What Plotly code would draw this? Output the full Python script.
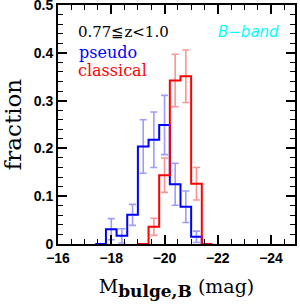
import plotly.graph_objects as go

# bin edges (mag) and fractions
bin_width = 0.4
pseudo_start = -17.4
pseudo_frac = [0.0, 0.031, 0.017, 0.061, 0.204, 0.218, 0.249, 0.125, 0.078, 0.015]
pseudo_err = [0.0, 0.022, 0.015, 0.022, 0.056, 0.058, 0.062, 0.044, 0.033, 0.012]
classical_start = -19.0
classical_frac = [0.0, 0.036, 0.144, 0.342, 0.351, 0.126, 0.0]
classical_err = [0.0, 0.018, 0.036, 0.055, 0.055, 0.034, 0.0]

x_ticks = [-16, -18, -20, -22, -24]
y_ticks = [0, 0.1, 0.2, 0.3, 0.4, 0.5]
y_ticktext = ["0", "0.1", "0.2", "0.3", "0.4", "0.5"]


def step(start, vals):
    edges = [start - i * bin_width for i in range(len(vals) + 1)]
    xs = edges[:len(vals)] + [edges[len(vals)]]
    ys = list(vals) + [0.0]
    centers = [start - (i + 0.5) * bin_width for i in range(len(vals))]
    return xs, ys, centers


fig = go.Figure()
for start, vals, errs, col, ecol in [
    (pseudo_start, pseudo_frac, pseudo_err, "#0000ff", "rgba(60,60,255,0.5)"),
    (classical_start, classical_frac, classical_err, "#ff0000", "rgba(255,40,40,0.5)"),
]:
    xs, ys, centers = step(start, vals)
    cx = [c for c, v in zip(centers, vals) if v > 0]
    cy = [v for v in vals if v > 0]
    ce = [e for e, v in zip(errs, vals) if v > 0]
    fig.add_trace(go.Scatter(x=cx, y=cy, mode="markers", marker=dict(size=0.1, opacity=0),
                             error_y=dict(type="data", array=ce, visible=True, color=ecol,
                                          thickness=1.6, width=3.5),
                             hoverinfo="skip", showlegend=False))
    fig.add_trace(go.Scatter(x=xs, y=ys, mode="lines", line=dict(shape="hv", color=col, width=2),
                             showlegend=False))

serif = "DejaVu Serif"
fig.update_layout(
    width=300, height=304,
    margin=dict(l=58, r=5, t=5, b=60),
    paper_bgcolor="white", plot_bgcolor="white",
    showlegend=False,
    xaxis=dict(range=[-16, -24.9], tickvals=x_ticks, ticks="inside", ticklen=9, tickwidth=1.5,
               tickcolor="black", showline=True, linecolor="black", linewidth=2, mirror="allticks",
               showgrid=False, zeroline=False, automargin=False, ticklabeloverflow="allow",
               minor=dict(dtick=0.5, ticks="inside", ticklen=5, tickwidth=1.2, tickcolor="black"),
               tickfont=dict(family="Liberation Sans", size=14, color="black", weight="bold"),
               title=dict(text="M<sub><b><span style=\"font-size:17px\">bulge,B</span></b></sub> (mag)",
                          font=dict(family=serif, size=19, color="black"), standoff=15)),
    yaxis=dict(range=[0, 0.5], tickvals=y_ticks, ticktext=y_ticktext, ticks="inside", ticklen=9,
               tickwidth=1.5, tickcolor="black", showline=True, linecolor="black", linewidth=2,
               mirror="allticks", showgrid=False, zeroline=False, automargin=False,
               ticklabeloverflow="allow",
               minor=dict(dtick=0.02, ticks="inside", ticklen=5, tickwidth=1.2, tickcolor="black"),
               tickfont=dict(family="Liberation Sans", size=14, color="black", weight="bold"),
               title=dict(text="fraction", font=dict(family=serif, size=23, color="black"),
                          standoff=8)),
)

fig.add_annotation(text="0.77≦z<1.0", x=0.075, y=0.885, xref="paper", yref="paper",
                   xanchor="left", yanchor="middle", showarrow=False,
                   font=dict(family=serif, size=15, color="black"))
fig.add_annotation(text="pseudo", x=0.08, y=0.803, xref="paper", yref="paper",
                   xanchor="left", yanchor="middle", showarrow=False,
                   font=dict(family=serif, size=16, color="#0000ff"))
fig.add_annotation(text="classical", x=0.075, y=0.725, xref="paper", yref="paper",
                   xanchor="left", yanchor="middle", showarrow=False,
                   font=dict(family=serif, size=16, color="#ff0000"))
fig.add_annotation(text="<i>B−band</i>", x=0.94, y=0.885, xref="paper", yref="paper",
                   xanchor="right", yanchor="middle", showarrow=False,
                   font=dict(family="DejaVu Sans", size=15, color="#00ffff"))

fig.write_html("out.html", config={"displayModeBar": False},
               post_script="document.body.style.margin='0px';document.body.style.overflow='hidden';")
